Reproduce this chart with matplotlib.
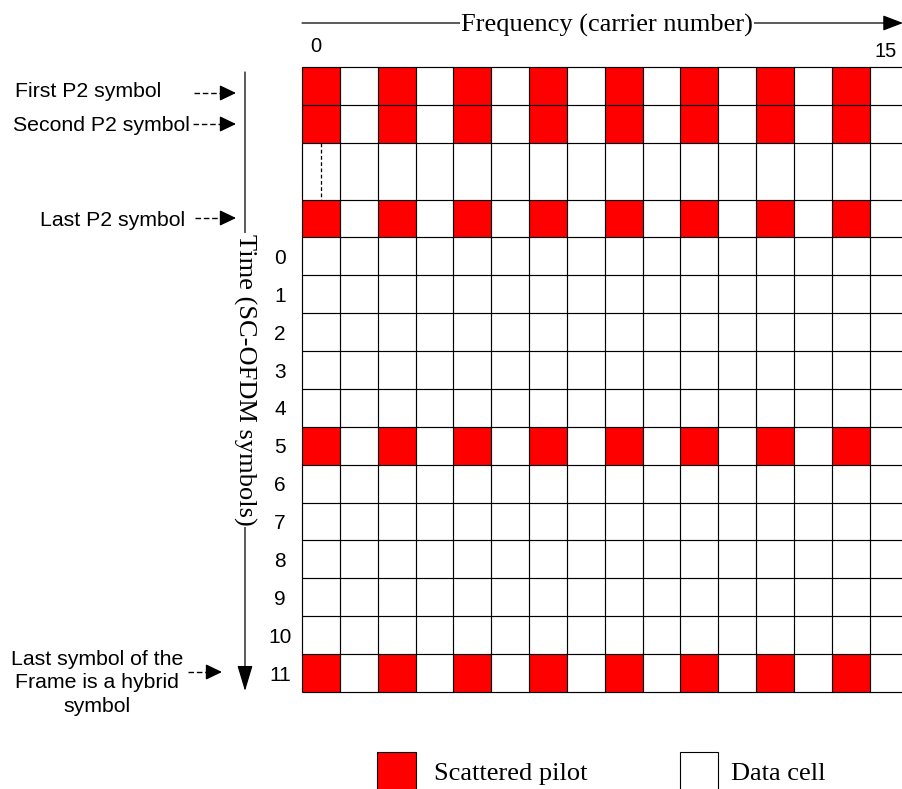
import numpy as np
import matplotlib
matplotlib.use("Agg")
from matplotlib import pyplot as plt
from matplotlib.colors import ListedColormap
from matplotlib.patches import Rectangle

# data
carriers = list(range(16))
row_names = ['First P2', 'Second P2', '...', 'Last P2',
             '0', '1', '2', '3', '4', '5', '6', '7', '8', '9', '10', '11']
pilot_carriers = [0, 2, 4, 6, 8, 10, 12, 14]
pilot_rows = ['First P2', 'Second P2', 'Last P2', '5', '11']
symbol_labels = ['0', '1', '2', '3', '4', '5', '6', '7', '8', '9', '10', '11']
p2_labels = [('First P2 symbol', 'First P2'),
             ('Second P2 symbol', 'Second P2'),
             ('Last P2 symbol', 'Last P2')]

SERIF = ['Liberation Serif', 'DejaVu Serif']
SANS = ['Liberation Sans', 'DejaVu Sans']

W, H = 903, 789
fig = plt.figure(figsize=(W / 100, H / 100), dpi=100)

# overlay in pixel coordinates for arrows and labels
ax0 = fig.add_axes([0, 0, 1, 1])
ax0.set_xlim(0, W)
ax0.set_ylim(H, 0)
ax0.axis('off')

# grid axes
row_h = [1.5 if r == '...' else 1.0 for r in row_names]
y_edges = np.concatenate([[0], np.cumsum(row_h)])
x_edges = np.arange(len(carriers) + 1)
cell = 37.85
gx0, gy0, gy1 = 302, 67, 692
ax = fig.add_axes([gx0 / W, (H - gy1) / H, len(carriers) * cell / W, (gy1 - gy0) / H])
ax.set_xlim(0, len(carriers))
ax.set_ylim(y_edges[-1], 0)
ax.axis('off')

grid = np.zeros((len(row_names), len(carriers)))
for i, r in enumerate(row_names):
    if r in pilot_rows:
        for c in pilot_carriers:
            grid[i, carriers.index(c)] = 1
ax.pcolormesh(x_edges, y_edges, grid, cmap=ListedColormap(['white', 'red']),
              vmin=0, vmax=1)
ax.hlines(y_edges, 0, len(carriers), color='black', lw=0.85, clip_on=False)
ax.vlines(x_edges, 0, y_edges[-1], color='black', lw=0.85, clip_on=False)

# dashed continuation line in the gap row
gi = row_names.index('...')
ax.plot([carriers[0] + 0.5] * 2, [y_edges[gi], y_edges[gi + 1]], color='black',
        lw=0.9, linestyle=(0, (3, 2)))

# symbol numbers
for s in symbol_labels:
    i = row_names.index(s)
    yc = (y_edges[i] + y_edges[i + 1]) / 2
    ax.text(-0.58, yc + 0.2, s, ha='center', va='baseline', fontsize=15,
            family=SANS, clip_on=False)

# frequency axis
ax0.annotate('', xy=(903, 23), xytext=(302, 23),
             arrowprops=dict(arrowstyle='-|>,head_length=1.25,head_width=0.48',
                             color='black', lw=0.9, shrinkA=0, shrinkB=0,
                             mutation_scale=10))
ax0.text(607, 32, 'Frequency (carrier number)', ha='center', va='baseline',
         fontsize=19, family=SERIF,
         bbox=dict(facecolor='white', edgecolor='none', pad=0.5))
ax0.text(316, 52, '0', ha='center', va='baseline', fontsize=14.5, family=SANS)
ax0.text(886, 57, '15', ha='center', va='baseline', fontsize=14.5, family=SANS)

# time axis
ax0.annotate('', xy=(245, 691), xytext=(245, 72),
             arrowprops=dict(arrowstyle='-|>,head_length=1.6,head_width=0.48',
                             color='black', lw=0.9, shrinkA=0, shrinkB=0,
                             mutation_scale=10))
ax0.text(245, 380, 'Time (SC-OFDM symbols)', ha='center', va='center',
         rotation=-90, fontsize=19, family=SERIF,
         bbox=dict(facecolor='white', edgecolor='none', pad=0.5))


def dashed_arrow(x0, x1, y):
    ax0.plot([x0, x1 - 10], [y, y], color='black', lw=1, linestyle=(0, (4, 2)))
    ax0.annotate('', xy=(x1, y), xytext=(x1 - 13, y),
                 arrowprops=dict(arrowstyle='-|>,head_length=1.0,head_width=0.48',
                                 color='black', lw=1, shrinkA=0, shrinkB=0,
                                 mutation_scale=10))


# left labels for P2 symbols
label_pos = {'First P2': (15, 97, 194, 93),
             'Second P2': (13, 131, 193, 124),
             'Last P2': (40, 226, 195, 218)}
for text, r in p2_labels:
    tx, ty, ax_start, ay = label_pos[r]
    ax0.text(tx, ty, text, ha='left', va='baseline', fontsize=15.3, family=SANS)
    dashed_arrow(ax_start, 236, ay)

ax0.text(97, 683, 'Last symbol of the\nFrame is a hybrid\nsymbol', ha='center',
         va='center', ma='center', fontsize=15.3, family=SANS, linespacing=1.33)
dashed_arrow(188, 222, 672)

# legend
ax0.add_patch(Rectangle((377, 752), 39, 40, facecolor='red', edgecolor='black', lw=0.8))
ax0.text(434, 780, 'Scattered pilot', ha='left', va='baseline', fontsize=19, family=SERIF)
ax0.add_patch(Rectangle((680, 752), 38, 40, facecolor='white', edgecolor='black', lw=0.8))
ax0.text(731, 780, 'Data cell', ha='left', va='baseline', fontsize=19, family=SERIF)

fig.savefig('out.png', dpi=100)
plt.close(fig)
